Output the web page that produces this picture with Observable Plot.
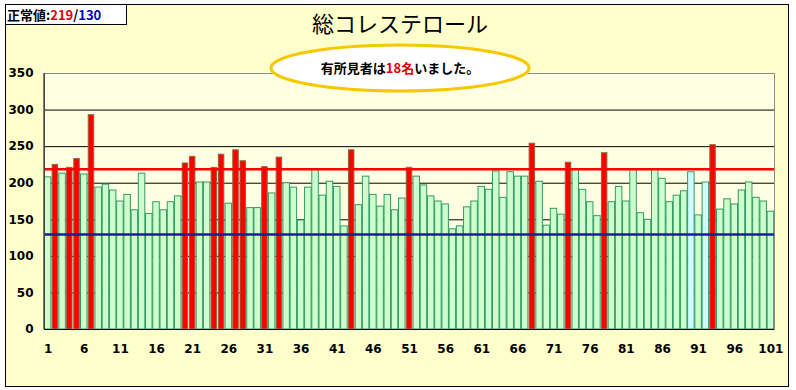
<!DOCTYPE html>
<html>
<head>
<meta charset="utf-8">
<script src="https://cdn.jsdelivr.net/npm/d3@7"></script>
<script src="https://cdn.jsdelivr.net/npm/@observablehq/plot@0.6"></script>
<style>
  html, body { margin: 0; padding: 0; background: #ffffff; }
  #wrap { position: relative; width: 796px; height: 390px; overflow: hidden; }
  #frame { position: absolute; left: 5px; top: 4px; width: 784px; height: 383px; border: 1px solid #000; background: #ffffcc; box-sizing: border-box; }
  #chart { position: absolute; left: 0; top: 0; }
  #title { position: absolute; left: 250px; top: 10px; width: 300px; text-align: center; font: 22px "Noto Sans CJK JP", sans-serif; line-height: 24px; color: #000; }
  #norm { position: absolute; left: 5px; top: 4px; width: 122px; height: 21px; box-sizing: border-box; border: 1px solid #000; background: #fff; font: bold 13px "Noto Sans CJK JP", sans-serif; line-height: 19px; padding-left: 1px; white-space: nowrap; }
  #note { position: absolute; left: 250px; top: 40px; }
</style>
</head>
<body>
<div id="wrap">
  <div id="frame"></div>
  <div id="chart"></div>
  <div id="title"></div>
  <svg id="note" width="300" height="60"></svg>
  <div id="norm"></div>
</div>
<script>
// ---- data ----
const chartTitle = "総コレステロール";
const upper = 219;
const lower = 130;
const values = [
  208, 225, 213, 221, 233, 212, 293, 194, 198, 190,
  175, 184, 163, 213, 158, 174, 163, 174, 182, 227,
  236, 201, 201, 221, 239, 172, 245, 230, 166, 166,
  222, 186, 235, 200, 194, 149, 194, 218, 183, 202,
  195, 141, 245, 170, 209, 184, 168, 184, 163, 179,
  221, 209, 197, 182, 175, 171, 137, 141, 167, 175,
  195, 191, 216, 180, 215, 209, 209, 254, 202, 142,
  165, 157, 228, 218, 191, 174, 155, 241, 174, 195,
  175, 218, 159, 150, 218, 206, 174, 183, 189, 215,
  156, 201, 252, 164, 178, 171, 190, 201, 180, 175,
  161
];
const cyanIds = [90, 92];
const yTicks = [0, 50, 100, 150, 200, 250, 300, 350];
const xTicks = [1, 6, 11, 16, 21, 26, 31, 36, 41, 46, 51, 56, 61, 66, 71, 76, 81, 86, 91, 96, 101];

const data = values.map((v, i) => ({
  no: i + 1,
  v,
  kind: v > upper ? "high" : (cyanIds.includes(i + 1) ? "cyan" : "normal")
}));
const highCount = data.filter(d => d.kind === "high").length;

// ---- texts ----
document.getElementById("title").textContent = chartTitle;
document.getElementById("norm").innerHTML =
  '正常値:<span style="color:#e00000">' + upper + '</span>/<span style="color:#0000c0">' + lower + '</span>';

// ---- chart ----
const leftAxisLine = (index, scales, values, dims) => {
  const g = document.createElementNS("http://www.w3.org/2000/svg", "line");
  g.setAttribute("x1", dims.marginLeft);
  g.setAttribute("x2", dims.marginLeft);
  g.setAttribute("y1", dims.marginTop);
  g.setAttribute("y2", dims.height - dims.marginBottom);
  g.setAttribute("stroke", "#000");
  return g;
};

const chart = Plot.plot({
  width: 796,
  height: 390,
  marginLeft: 44,
  marginRight: 22,
  marginTop: 73,
  marginBottom: 61,
  style: { background: "transparent", fontFamily: "DejaVu Sans", fontSize: "12px", fontWeight: "bold", color: "#000" },
  x: { type: "band", domain: data.map(d => d.no), paddingInner: 0.1, paddingOuter: 0.05, round: false, axis: null },
  y: { domain: [0, 350], axis: null },
  marks: [
    Plot.frame({ fill: "#ffffe4" }),
    Plot.ruleY(yTicks.filter(t => t > 0 && t < 350), { stroke: "#000", strokeWidth: 1 }),
    Plot.barY(data.filter(d => d.kind !== "high"), {
      x: "no", y: "v",
      fill: d => d.kind === "cyan" ? "#ccffff" : "#ccffcc",
      stroke: "#339966", strokeWidth: 1
    }),
    Plot.barY(data.filter(d => d.kind === "high"), {
      x: "no", y: "v", fill: "#ff0000", stroke: "#8a6a3a", strokeWidth: 1,
      insetLeft: 0.5, insetRight: 0.5
    }),
    Plot.ruleY([upper], { stroke: "#ff0000", strokeWidth: 2.5 }),
    Plot.ruleY([lower], { stroke: "#1a1aa8", strokeWidth: 2.5 }),
    Plot.frame({ stroke: "#8c8c8c" }),
    Plot.ruleY([0], { stroke: "#000" }),
    leftAxisLine,
    Plot.axisY({ ticks: yTicks, tickSize: 0, tickPadding: 11, fontWeight: "bold", fontSize: 12, label: null }),
    Plot.axisX({ ticks: xTicks, tickSize: 0, tickPadding: 15, fontWeight: "bold", fontSize: 12, label: null })
  ]
});
document.getElementById("chart").appendChild(chart);

// ---- callout ----
const note = d3.select("#note");
note.append("ellipse")
  .attr("cx", 150).attr("cy", 28).attr("rx", 129).attr("ry", 23)
  .attr("fill", "#ffffff").attr("stroke", "#f5c800").attr("stroke-width", 3);
const t = note.append("text")
  .attr("x", 150).attr("y", 28).attr("dy", "0.36em")
  .attr("text-anchor", "middle")
  .attr("font-family", "Noto Sans CJK JP").attr("font-size", 13).attr("font-weight", "bold");
t.append("tspan").text("有所見者は");
t.append("tspan").attr("fill", "#e00000").text(highCount + "名");
t.append("tspan").text("いました。");
</script>
</body>
</html>
